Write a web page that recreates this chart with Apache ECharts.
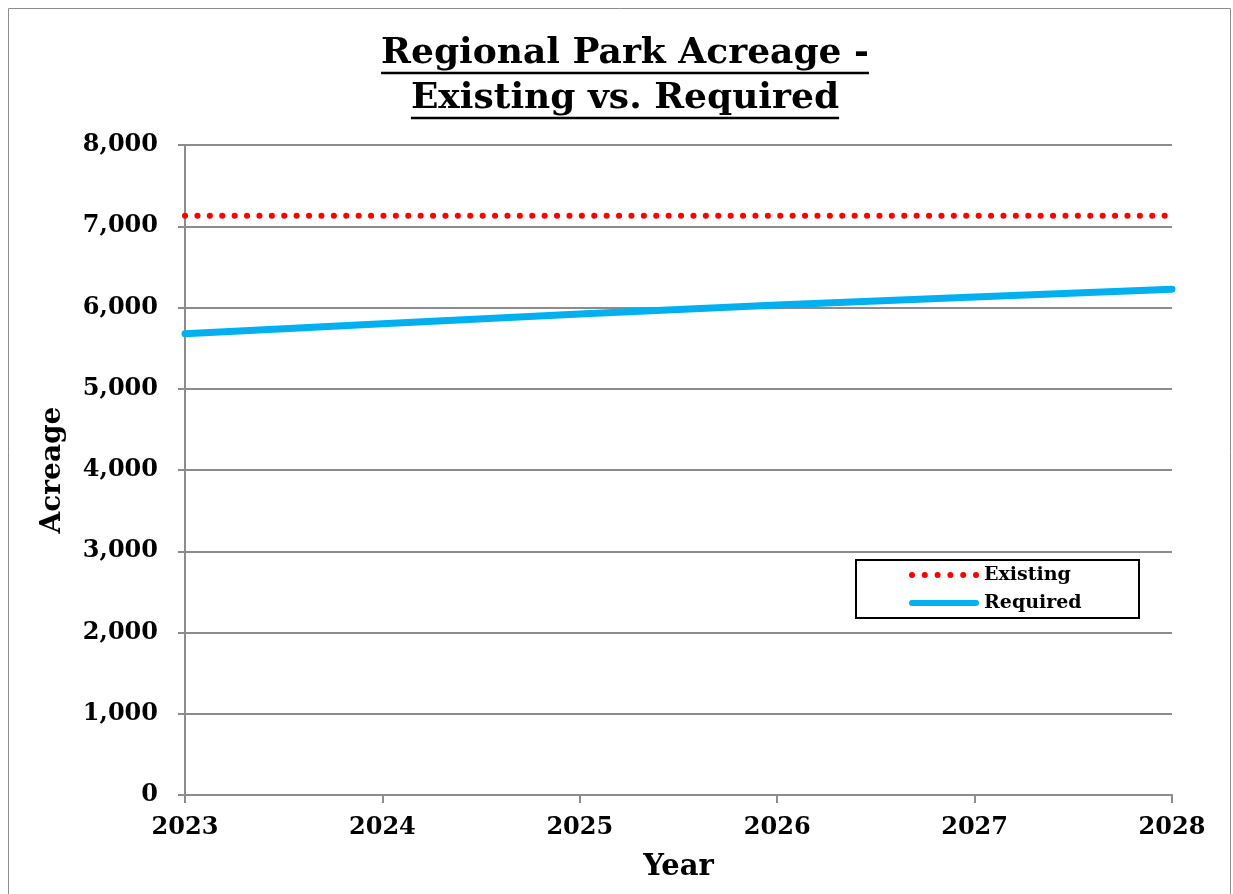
<!DOCTYPE html>
<html>
<head>
<meta charset="utf-8">
<script src="https://cdn.jsdelivr.net/npm/echarts@6/dist/echarts.min.js"></script>
<style>
html,body{margin:0;padding:0;background:#fff;}
#c{width:1233px;height:894px;}
</style>
</head>
<body>
<div id="c"></div>
<script>
var years = ['2023','2024','2025','2026','2027','2028'];
var existing = [7128, 7128, 7128, 7128, 7128, 7128];
var required = [5676, 5800, 5920, 6030, 6130, 6225];
var yTicks = {min: 0, max: 8000, interval: 1000};
var titleLines = ['Regional Park Acreage -', 'Existing vs. Required'];

var FONT = '"DejaVu Serif", "Liberation Serif", serif';
var chart = echarts.init(document.getElementById('c'));

var titleSize = 36, titleCx = 625, titleTop = 31, titleLH = 45;
var ctx = document.createElement('canvas').getContext('2d');
ctx.font = 'bold ' + titleSize + 'px ' + FONT;
var titles = [], underlines = [];
titleLines.forEach(function (t, i) {
  var w = ctx.measureText(t).width;
  var top = titleTop + titleLH * i;
  titles.push({text: t, left: titleCx - w / 2, top: top, padding: 0,
    textStyle: {fontFamily: FONT, fontWeight: 'bold', fontSize: titleSize, lineHeight: titleLH, color: '#000'}});
  var y = top + titleLH - 3;
  underlines.push({type: 'line', shape: {x1: titleCx - w / 2, y1: y, x2: titleCx + w / 2, y2: y},
          style: {stroke: '#000', lineWidth: 2.5}, silent: true});
});

var legendFont = 19;
ctx.font = 'bold ' + legendFont + 'px ' + FONT;
var legTextW = Math.max(ctx.measureText('Existing').width, ctx.measureText('Required').width);
var legPadL = 53, legIconW = 70;
var legPadR = Math.max(10, 285 - legPadL - legIconW - 5 - legTextW - 2);

var dotsPath = 'path://';
for (var k = 0; k < 6; k++) {
  var cx = 3 + k * 12.8;
  dotsPath += 'M' + (cx - 3) + ' 3 A3 3 0 1 0 ' + (cx + 3) + ' 3 A3 3 0 1 0 ' + (cx - 3) + ' 3 Z ';
}
var barPath = 'path://M3 0 L69 0 A3 3 0 0 1 69 6 L3 6 A3 3 0 0 1 3 0 Z';

chart.setOption({
  backgroundColor: '#fff',
  animation: false,
  title: titles,
  graphic: [{type: 'rect', shape: {x: 8.5, y: 8.5, width: 1222, height: 900},
             style: {fill: 'none', stroke: '#8c8c8c', lineWidth: 1}, silent: true}].concat(underlines),
  legend: {
    orient: 'vertical',
    left: 856, top: 560,
    backgroundColor: '#fff',
    borderColor: '#000', borderWidth: 2,
    padding: [3, legPadR, 3, legPadL],
    itemGap: 4,
    itemWidth: legIconW, itemHeight: 6,
    textStyle: {fontFamily: FONT, fontWeight: 'bold', fontSize: legendFont, lineHeight: 24, color: '#000'},
    data: [
      {name: 'Existing', icon: dotsPath, itemStyle: {color: '#ff0000'}},
      {name: 'Required', icon: barPath, itemStyle: {color: '#00b0f0'}}
    ]
  },
  grid: {left: 185, right: 61, top: 145, bottom: 99},
  xAxis: {
    type: 'category',
    data: years,
    boundaryGap: false,
    name: 'Year',
    nameLocation: 'middle',
    nameGap: 58,
    nameTextStyle: {fontFamily: FONT, fontWeight: 'bold', fontSize: 29, color: '#000'},
    axisLine: {lineStyle: {color: '#8c8c8c', width: 2}},
    axisTick: {show: true, length: 8, alignWithLabel: true, lineStyle: {color: '#8c8c8c', width: 2}},
    axisLabel: {fontFamily: FONT, fontWeight: 'bold', fontSize: 24, color: '#000', margin: 21},
    splitLine: {show: false}
  },
  yAxis: {
    type: 'value',
    min: yTicks.min, max: yTicks.max, interval: yTicks.interval,
    name: 'Acreage',
    nameLocation: 'middle',
    nameGap: 118,
    nameRotate: 90,
    nameTextStyle: {fontFamily: FONT, fontWeight: 'bold', fontSize: 28, color: '#000'},
    axisLine: {show: true, lineStyle: {color: '#8c8c8c', width: 2}},
    axisTick: {show: true, length: 7, lineStyle: {color: '#8c8c8c', width: 2}},
    axisLabel: {fontFamily: FONT, fontWeight: 'bold', fontSize: 24, color: '#000', margin: 27,
                formatter: function (v) { return v.toLocaleString('en-US'); }},
    splitLine: {show: true, lineStyle: {color: '#8c8c8c', width: 2}}
  },
  series: [
    {name: 'Existing', type: 'line', data: existing, symbol: 'none', z: 3,
     itemStyle: {color: '#ff0000'},
     lineStyle: {color: '#ff0000', width: 6, type: [0.1, 12.3], cap: 'round'}},
    {name: 'Required', type: 'line', data: required, symbol: 'none', z: 4,
     itemStyle: {color: '#00b0f0'},
     lineStyle: {color: '#00b0f0', width: 7, cap: 'round'}}
  ]
});
</script>
</body>
</html>
